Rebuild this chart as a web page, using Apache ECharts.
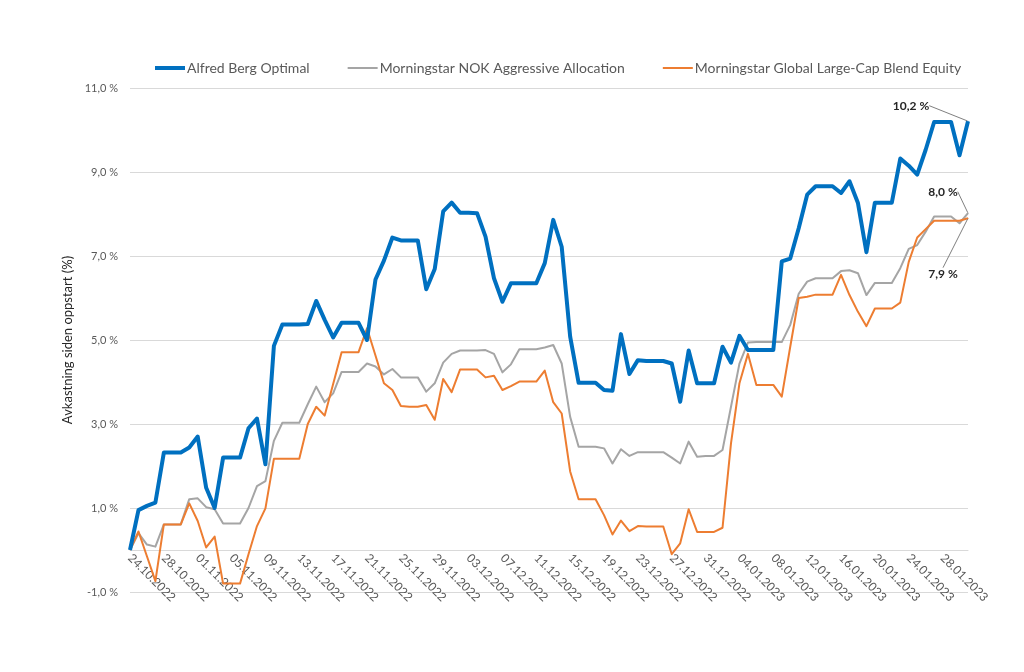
<!DOCTYPE html>
<html>
<head>
<meta charset="utf-8">
<script src="https://cdn.jsdelivr.net/npm/echarts@6/dist/echarts.min.js"></script>
<style>
html,body{margin:0;padding:0;background:#fff;}
#chart{width:1024px;height:672px;}
</style>
</head>
<body>
<div id="chart"></div>
<script>
const dates = [
"24.10.2022","25.10.2022","26.10.2022","27.10.2022","28.10.2022","29.10.2022","30.10.2022","31.10.2022",
"01.11.2022","02.11.2022","03.11.2022","04.11.2022","05.11.2022","06.11.2022","07.11.2022","08.11.2022","09.11.2022","10.11.2022",
"11.11.2022","12.11.2022","13.11.2022","14.11.2022","15.11.2022","16.11.2022","17.11.2022","18.11.2022","19.11.2022","20.11.2022",
"21.11.2022","22.11.2022","23.11.2022","24.11.2022","25.11.2022","26.11.2022","27.11.2022","28.11.2022","29.11.2022","30.11.2022",
"01.12.2022","02.12.2022","03.12.2022","04.12.2022","05.12.2022","06.12.2022","07.12.2022","08.12.2022","09.12.2022","10.12.2022",
"11.12.2022","12.12.2022","13.12.2022","14.12.2022","15.12.2022","16.12.2022","17.12.2022","18.12.2022","19.12.2022","20.12.2022",
"21.12.2022","22.12.2022","23.12.2022","24.12.2022","25.12.2022","26.12.2022","27.12.2022","28.12.2022","29.12.2022","30.12.2022","31.12.2022",
"01.01.2023","02.01.2023","03.01.2023","04.01.2023","05.01.2023","06.01.2023","07.01.2023","08.01.2023","09.01.2023","10.01.2023",
"11.01.2023","12.01.2023","13.01.2023","14.01.2023","15.01.2023","16.01.2023","17.01.2023","18.01.2023","19.01.2023","20.01.2023",
"21.01.2023","22.01.2023","23.01.2023","24.01.2023","25.01.2023","26.01.2023","27.01.2023","28.01.2023","29.01.2023","30.01.2023","31.01.2023"
];

const alfredBerg = [
0.0,0.95,1.05,1.13,2.32,2.32,2.32,2.44,2.70,1.48,
1.0,2.2,2.2,2.2,2.9,3.13,2.04,4.86,5.37,5.37,
5.37,5.38,5.93,5.48,5.06,5.41,5.41,5.41,5.0,6.44,
6.89,7.44,7.37,7.37,7.37,6.21,6.69,8.06,8.27,8.03,
8.03,8.02,7.46,6.47,5.91,6.35,6.35,6.35,6.35,6.83,
7.86,7.22,5.08,3.98,3.98,3.98,3.81,3.79,5.14,4.19,
4.52,4.5,4.5,4.5,4.44,3.53,4.75,3.97,3.97,3.97,
4.84,4.46,5.1,4.76,4.76,4.76,4.76,6.87,6.94,7.66,
8.46,8.66,8.66,8.66,8.5,8.78,8.26,7.09,8.27,8.27,
8.27,9.32,9.15,8.94,9.53,10.19,10.19,10.19,9.4,10.21
];

const aggressiveAllocation = [
0.0,0.40,0.13,0.08,0.61,0.61,0.61,1.21,1.23,1.02,
0.97,0.63,0.63,0.63,1.0,1.52,1.64,2.6,3.03,3.03,
3.03,3.47,3.89,3.52,3.73,4.24,4.24,4.24,4.44,4.37,
4.18,4.31,4.11,4.11,4.11,3.77,3.97,4.46,4.67,4.75,
4.75,4.75,4.76,4.67,4.23,4.42,4.78,4.78,4.78,4.82,
4.88,4.44,3.17,2.46,2.46,2.46,2.42,2.06,2.4,2.24,
2.33,2.33,2.33,2.33,2.2,2.06,2.58,2.22,2.24,2.24,
2.38,3.41,4.44,4.94,4.95,4.95,4.95,4.95,5.36,6.1,
6.39,6.47,6.47,6.47,6.64,6.66,6.59,6.07,6.36,6.36,
6.36,6.71,7.17,7.26,7.58,7.94,7.94,7.94,7.78,8.02
];

const globalLargeCap = [
0.0,0.44,-0.15,-0.74,0.61,0.61,0.61,1.11,0.69,0.06,
0.32,-0.80,-0.80,-0.80,-0.10,0.57,0.99,2.17,2.17,2.17,
2.17,3.0,3.41,3.2,3.95,4.71,4.71,4.71,5.28,4.63,
3.97,3.81,3.43,3.41,3.41,3.45,3.1,4.07,3.76,4.3,
4.3,4.3,4.11,4.15,3.81,3.9,4.01,4.01,4.01,4.27,
3.52,3.25,1.87,1.21,1.21,1.21,0.83,0.37,0.70,0.45,
0.57,0.56,0.56,0.56,-0.1,0.16,0.97,0.43,0.43,0.43,
0.53,2.54,3.97,4.67,3.93,3.93,3.93,3.65,4.84,6.0,
6.03,6.08,6.08,6.08,6.55,6.07,5.67,5.33,5.75,5.75,
5.75,5.89,6.86,7.44,7.64,7.84,7.84,7.84,7.84,7.9
];

const seriesNames = ["Alfred Berg Optimal","Morningstar NOK Aggressive Allocation","Morningstar Global Large-Cap Blend Equity"];
const yTicks = {min:-1, max:11, interval:2};

const FONT = 'Lato, "Open Sans", sans-serif';
const pct = v => v.toFixed(1).replace('.', ',') + ' %';

function withEndLabel(arr){
  return arr.map((v,i) => i === arr.length-1
    ? {value:v, symbol:'circle', symbolSize:1, label:{show:true}}
    : v);
}

function makeSeries(name, arr, color, width, pos, layout, z){
  return {
    name: name,
    type: 'line',
    data: withEndLabel(arr),
    symbol: 'none',
    showSymbol: true,
    showAllSymbol: true,
    z: z,
    lineStyle: {color: color, width: width, join: 'round'},
    itemStyle: {color: color},
    label: {
      show: false,
      position: pos,
      formatter: p => pct(p.value),
      fontFamily: FONT, fontSize: 12, fontWeight: 'bold', color: '#262626'
    },
    labelLine: {show: true, lineStyle: {color: '#7f7f7f', width: 1}},
    labelLayout: layout,
    emphasis: {disabled: true}
  };
}

const chart = echarts.init(document.getElementById('chart'), null, {renderer:'canvas'});
chart.setOption({
  animation: false,
  backgroundColor: '#ffffff',
  legend: {
    top: 56, left: 150,
    itemWidth: 30, itemHeight: 12, itemGap: 38,
    textStyle: {fontFamily: FONT, fontSize: 14, color: '#595959', padding:[0,0,0,-3]},
    data: [
      {name: seriesNames[0], icon: 'path://M0,0 H30 V4 H0 Z'},
      {name: seriesNames[1], icon: 'path://M0,0 H30 V2 H0 Z'},
      {name: seriesNames[2], icon: 'path://M0,0 H30 V2 H0 Z'}
    ]
  },
  grid: {left: 130, right: 56, top: 88, bottom: 80, containLabel: false, outerBoundsMode: 'none'},
  xAxis: {
    type: 'category',
    data: dates,
    boundaryGap: false,
    offset: -42,
    axisLine: {show: true, onZero: false, lineStyle: {color: '#d9d9d9', width: 1}},
    axisTick: {show: false},
    axisLabel: {interval: 3, rotate: -45, fontFamily: FONT, fontSize: 12, color: '#595959', margin: 6},
    splitLine: {show: false}
  },
  yAxis: {
    type: 'value',
    min: yTicks.min, max: yTicks.max, interval: yTicks.interval,
    name: 'Avkastning siden oppstart (%)',
    nameLocation: 'middle', nameGap: 56,
    nameTextStyle: {fontFamily: FONT, fontSize: 13, color: '#262626'},
    axisLine: {show: false},
    axisTick: {show: false},
    axisLabel: {formatter: v => pct(v), fontFamily: FONT, fontSize: 11, color: '#595959', margin: 12},
    splitLine: {show: true, lineStyle: {color: '#d9d9d9', width: 1}}
  },
  series: [
    makeSeries(seriesNames[0], alfredBerg, '#0070C0', 4, 'top', {dx: -57, dy: -4}, 4),
    makeSeries(seriesNames[1], aggressiveAllocation, '#A5A5A5', 2, 'top', {dx: -25, dy: -10}, 2),
    makeSeries(seriesNames[2], globalLargeCap, '#ED7D31', 2, 'bottom', {dx: -25, dy: 44}, 3)
  ]
});
</script>
</body>
</html>
